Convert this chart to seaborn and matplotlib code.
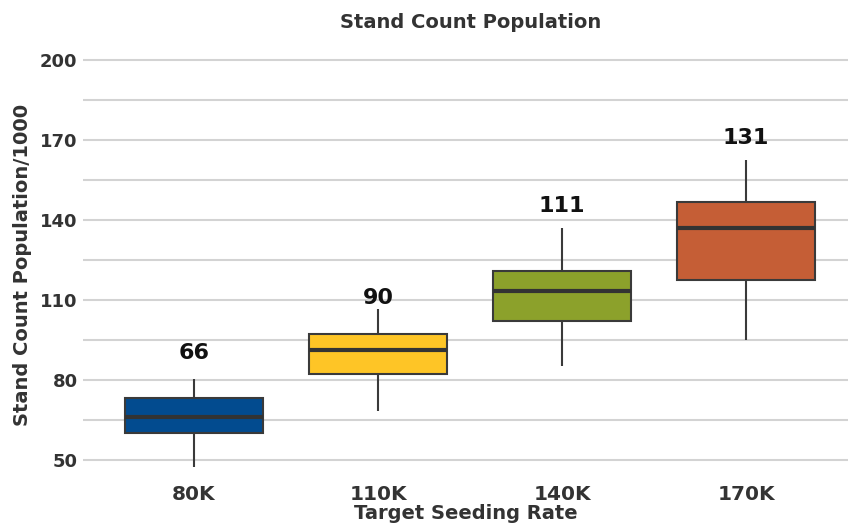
import numpy as np
import pandas as pd
import seaborn as sns
import matplotlib.pyplot as plt

# Five-number summaries (min, q1, median, q3, max)
rates = ["80K", "110K", "140K", "170K"]
low = [47.3, 68.3, 85.2, 95.1]
q1 = [60.0, 82.1, 102.3, 117.5]
median = [66.1, 91.1, 113.5, 137.0]
q3 = [73.2, 97.1, 121.0, 146.7]
high = [80.5, 106.8, 137.0, 162.7]
mean_labels = [66, 90, 111, 131]
label_y = [86.5, 107.0, 141.5, 167.0]
box_colors = ["#024B8F", "#FEC526", "#8CA12B", "#C55E36"]

rows = []
for i, r in enumerate(rates):
    for v in (low[i], q1[i], median[i], q3[i], high[i]):
        rows.append({"rate": r, "stand": v})
df = pd.DataFrame(rows)

sns.set_style("white")
plt.rcParams["font.family"] = ["DejaVu Sans"]
plt.rcParams["font.weight"] = "bold"

fig = plt.figure(figsize=(8.48, 5.27), dpi=100)
ax = fig.add_axes([0.098, 0.092, 0.902, 0.809])

# grid lines every 15
for y in np.arange(50, 201, 15):
    ax.axhline(y, color="#d3d3d3", lw=1.5, zorder=0)

sns.boxplot(data=df, x="rate", y="stand", hue="rate", palette=box_colors,
            order=rates, whis=(0, 100), width=0.75, ax=ax, legend=False,
            saturation=1, linecolor="#3a3a3a", linewidth=1.5,
            medianprops={"linewidth": 3, "color": "#333333"},
            capprops={"linewidth": 0},
            showfliers=False, zorder=2)

for i, (m, y) in enumerate(zip(mean_labels, label_y)):
    ax.text(i, y, str(m), ha="center", va="bottom", fontsize=16,
            fontweight="bold", color="#111111")

ax.set_ylim(43, 203)
ax.set_xlim(-0.603, 3.554)
ax.set_yticks([50, 80, 110, 140, 170, 200])
ax.tick_params(axis="y", labelsize=13, colors="#333333", length=0, pad=4)
ax.tick_params(axis="x", labelsize=14.5, colors="#333333", length=0, pad=5)
for lab in ax.get_xticklabels() + ax.get_yticklabels():
    lab.set_fontweight("bold")
for s in ax.spines.values():
    s.set_visible(False)

ax.set_xlabel("Target Seeding Rate", fontsize=14, fontweight="bold",
              color="#333333", labelpad=0)
ax.set_ylabel("Stand Count Population/1000", fontsize=14, fontweight="bold",
              color="#333333", labelpad=6)
fig.suptitle("Stand Count Population", x=0.555, y=0.975, fontsize=14,
             fontweight="bold", color="#333333")

fig.savefig("out.png", dpi=100)
